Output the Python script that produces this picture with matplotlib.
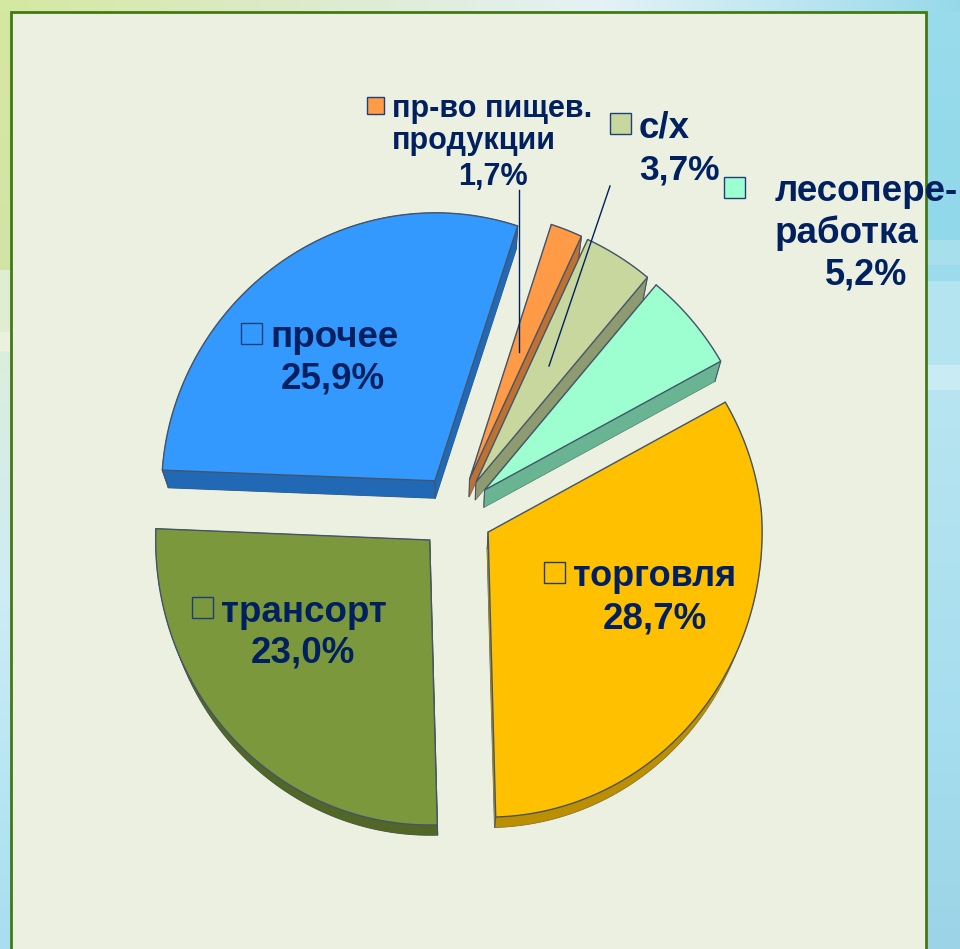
import numpy as np
import matplotlib
matplotlib.use('Agg')
import matplotlib.pyplot as plt
from matplotlib.colors import to_rgb
from matplotlib.patches import Polygon, Rectangle

plt.rcParams['font.family'] = ['Liberation Sans', 'DejaVu Sans']

# data, clockwise from the first slice
names = ['пр-во пищев. продукции', 'с/х', 'лесопереработка', 'торговля', 'трансорт', 'прочее']
values = [1.7, 3.7, 5.2, 28.7, 23.0, 25.9]
colors = ['#FF9A47', '#C8D79E', '#9DFFD0', '#FFC000', '#7C983C', '#3399FF']
darks = ['#BD7133', '#8E9B70', '#69B493', '#BC8E00', '#526628', '#2269B5']
nudge_y = [0, 0, 0, 0, 0, -2.5]

START = 18.0      # first slice starts here, degrees clockwise from 12 o'clock
CX, CY = 456, 513
R = 274
EXPLODE = 37
VP = np.array([450.0, 1302.0])  # sides of the slices run to this point
DEPTH = 0.021
NAVY = '#002060'
EDGE = '#44546A'

fig = plt.figure(figsize=(9.6, 9.49), dpi=100)
ax = fig.add_axes([0, 0, 1, 1])
ax.axis('off')


def ramp(pos, stops, cols):
    rgb = np.array([to_rgb(c) for c in cols])
    return np.column_stack([np.interp(pos, stops, rgb[:, i]) for i in range(3)])


# slide background, only the strips round the panel show
xs = np.arange(960)
ys = np.arange(949)
bg = np.zeros((949, 960, 3))
top_row = ramp(xs, [0, 300, 600, 780, 960], ['#D5E8A0', '#DDEBCB', '#E4F2F6', '#BFE7F2', '#95D9E9'])
bg[:12] = top_row
left_col = ramp(ys, [0, 269, 270, 331, 332, 350, 351, 600, 800, 949],
                ['#D5E8A0', '#D2E4A6', '#DFEDD0', '#DFEDD0', '#E8F2DC', '#E8F2DC', '#DCEEDC',
                 '#CDECF5', '#B5E5F3', '#A8DEEF'])
right_col = ramp(ys, [0, 239, 240, 264, 265, 280, 281, 364, 365, 389, 390, 750, 949],
                 ['#9ADCEC', '#90D8EA', '#A8DFEC', '#A8DFEC', '#9BDBEC', '#9BDBEC', '#B5E4F1',
                  '#B5E4F1', '#C8EBF4', '#C8EBF4', '#B8E5F1', '#A5DDEF', '#9CD3E6'])
bg[12:, :12] = left_col[12:, None, :]
bg[12:, 920:] = right_col[12:, None, :]
ax.imshow(bg, extent=(0, 960, 949, 0), aspect='auto', zorder=0)
ax.set_xlim(0, 960)
ax.set_ylim(949, 0)

# chart panel
ax.add_patch(Rectangle((11, 12), 915, 945, fc='#ECF0E0', ec='#437A12', lw=2, zorder=1))


def project(px, py):
    # slight perspective: narrower and flatter above the centre, taller below it
    sy = np.where(py < 0, 0.978, 1.04)
    sx = 1 + np.minimum(py, 0) * 0.0001
    return np.column_stack([CX + px * sx, CY + py * sy])


# slices
total = sum(values)
a0 = START
z = 2
for val, col, dark, ny in zip(values, colors, darks, nudge_y):
    ext = val / total * 360
    a1 = a0 + ext
    mid = np.radians(a0 + ext / 2)
    ox, oy = EXPLODE * np.sin(mid), -EXPLODE * np.cos(mid)
    ang = np.radians(np.linspace(a0, a1, max(int(ext), 4) + 1))
    px = np.concatenate([[ox], ox + R * np.sin(ang)])
    py = np.concatenate([[oy], oy - R * np.cos(ang)])
    top = project(px, py) + [0, ny]
    bottom = top + (VP - top) * DEPTH
    ax.add_patch(Polygon(bottom, fc=dark, ec=EDGE, lw=1, zorder=z))
    for i in range(len(top)):
        j = (i + 1) % len(top)
        ax.add_patch(Polygon([top[i], top[j], bottom[j], bottom[i]], fc=dark, ec=dark, lw=0.5, zorder=z))
    for k in (0, 1, len(top) - 1):
        ax.plot([top[k, 0], bottom[k, 0]], [top[k, 1], bottom[k, 1]], color=EDGE, lw=0.8, zorder=z)
    ax.add_patch(Polygon(top, fc=col, ec=EDGE, lw=1, zorder=z + 0.5))
    a0 = a1
    z += 1

# leader lines
ax.plot([519, 519], [190, 352], color=NAVY, lw=1, zorder=20)
ax.plot([610, 549], [186, 366], color=NAVY, lw=1, zorder=20)

# labels
FS = 26.5


def label(px, py, text, size=FS):
    ax.text(px, py, text, color=NAVY, fontsize=size, fontweight='bold', ha='left', va='baseline',
            zorder=30, clip_on=False)


def key(px, py, w, col):
    ax.add_patch(Rectangle((px, py), w, w, fc=col, ec='#1F3F7A', lw=1, zorder=30))


key(367, 97, 17, colors[0])
label(392, 117, 'пр-во пищев.', 22)
label(392, 149, 'продукции', 22)
label(458, 185, '1,7%', 22)

key(610, 113, 21, colors[1])
label(639, 137, 'с/х')
label(639, 179, '3,7%', 25.5)

key(724, 177, 21, colors[2])
label(775, 201, 'лесопере-')
label(775, 243, 'работка')
label(825, 285, '5,2%', 26)

key(241, 323, 21, colors[5])
label(270, 347, 'прочее')
label(281, 389, '25,9%')

key(544, 562, 21, colors[3])
label(573, 586, 'торговля', 26)
label(603, 629, '28,7%')

key(192, 597, 21, colors[4])
label(221, 622, 'трансорт')
label(251, 663, '23,0%')

fig.savefig('out.png', dpi=100)
